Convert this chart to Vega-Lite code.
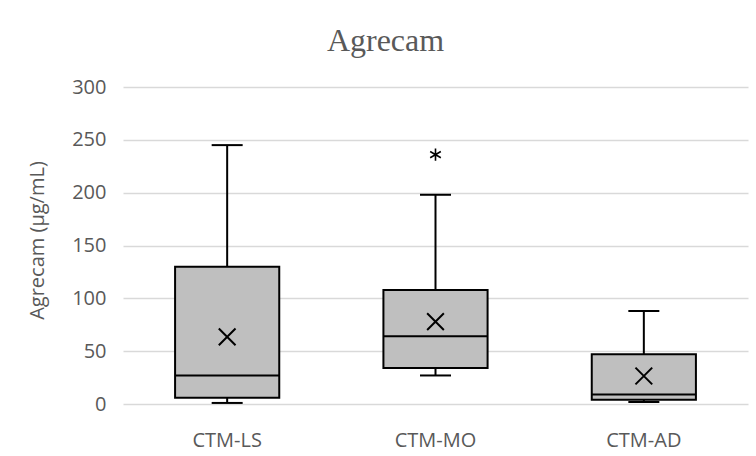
{
  "$schema": "https://vega.github.io/schema/vega-lite/v6.json",
  "autosize": {"type": "none"},
  "width": 625,
  "height": 317,
  "padding": {"left": 123, "top": 87, "right": 8, "bottom": 52},
  "background": "white",
  "title": {"text": "Agrecam", "font": "Liberation Serif", "fontSize": 32, "fontWeight": "normal", "color": "#595959", "anchor": "middle", "frame": "group", "dx": -50, "offset": 19},
  "config": {"view": {"stroke": null}},
  "data": {"values": [
    {"group": "CTM-LS", "min": 1, "q1": 6, "median": 27, "q3": 130, "max": 245, "mean": 63.5, "outlier": null},
    {"group": "CTM-MO", "min": 27, "q1": 34, "median": 64, "q3": 108, "max": 198, "mean": 78, "outlier": 236},
    {"group": "CTM-AD", "min": 2, "q1": 4, "median": 9, "q3": 47, "max": 88, "mean": 26.5, "outlier": null}
  ]},
  "encoding": {
    "x": {"field": "group", "type": "nominal", "sort": null, "scale": {"paddingInner": 0, "paddingOuter": 0},
      "axis": {"title": null, "labelAngle": 0, "labelFont": "Open Sans", "labelFontSize": 20, "labelColor": "#595959", "ticks": false, "domain": false, "labelPadding": 26}}
  },
  "layer": [
    {
      "mark": {"type": "rule", "color": "black", "strokeWidth": 2},
      "encoding": {
        "y": {"field": "min", "type": "quantitative", "scale": {"domain": [0, 300]},
          "axis": {"title": "Agrecam (µg/mL)", "values": [0, 50, 100, 150, 200, 250, 300], "titleFont": "Open Sans", "titleFontSize": 20, "titleFontWeight": "normal", "titleColor": "#595959", "titleX": -76, "titleY": 153, "labelFont": "Open Sans", "labelFontSize": 20, "labelColor": "#595959", "labelPadding": 17, "ticks": false, "domain": false, "gridColor": "#d9d9d9", "gridWidth": 1.5}},
        "y2": {"field": "max"}
      }
    },
    {
      "mark": {"type": "tick", "color": "black", "size": 31, "thickness": 2, "opacity": 1},
      "encoding": {"y": {"field": "max", "type": "quantitative"}}
    },
    {
      "mark": {"type": "tick", "color": "black", "size": 31, "thickness": 2, "opacity": 1},
      "encoding": {"y": {"field": "min", "type": "quantitative"}}
    },
    {
      "mark": {"type": "bar", "fill": "#bfbfbf", "stroke": "black", "strokeWidth": 2, "width": {"band": 0.5}},
      "encoding": {"y": {"field": "q1", "type": "quantitative"}, "y2": {"field": "q3"}}
    },
    {
      "mark": {"type": "tick", "color": "black", "size": 104, "thickness": 2, "opacity": 1},
      "encoding": {"y": {"field": "median", "type": "quantitative"}}
    },
    {
      "mark": {"type": "point", "shape": "M-1,-1L1,1M-1,1L1,-1", "filled": false, "stroke": "black", "strokeWidth": 2, "size": 280, "opacity": 1},
      "encoding": {"y": {"field": "mean", "type": "quantitative"}}
    },
    {
      "transform": [{"filter": "datum.outlier != null"}],
      "mark": {"type": "point", "shape": "M0,-1L0,1M-0.87,-0.5L0.87,0.5M-0.87,0.5L0.87,-0.5", "filled": false, "stroke": "black", "strokeWidth": 1.6, "size": 150, "opacity": 1},
      "encoding": {"y": {"field": "outlier", "type": "quantitative"}}
    }
  ]
}
